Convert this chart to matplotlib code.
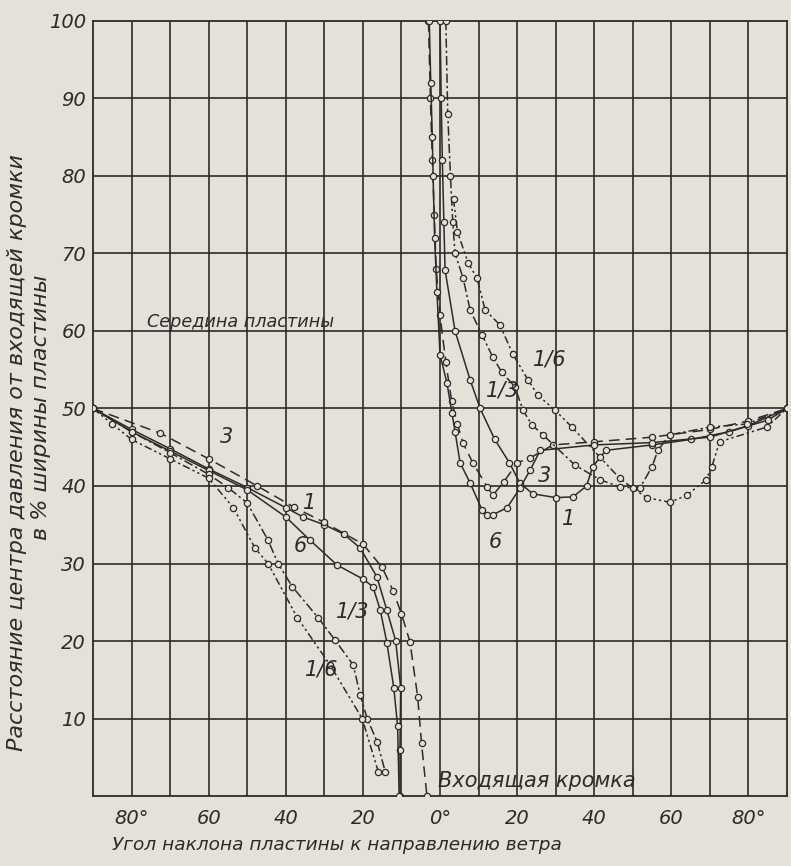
import matplotlib
matplotlib.use("Agg")
import matplotlib.pyplot as plt

plt.rcParams['font.family'] = ['Liberation Sans Narrow', 'DejaVu Sans']
plt.rcParams['font.style'] = 'italic'

paper = '#e3e1d8'
ink = '#2b2b2b'

# left branch: negative angles (plate inclined the other way)
a1_l = [-90, -80, -70, -60, -50, -40, -35.5, -30, -25, -20.7, -16.4, -13.8, -11.5, -10.2, -10.4, -10.4]
v1_l = [50, 47.3, 44.8, 42.2, 39.8, 37.2, 36.0, 35.0, 33.8, 32.0, 28.3, 24.0, 20.0, 14.0, 6.0, 0]
a3_l = [-90, -72.5, -60, -47.4, -38, -30, -20, -15, -12.2, -10, -7.8, -5.8, -4.8, -3.4]
v3_l = [50, 46.8, 43.5, 40.0, 37.3, 35.3, 32.5, 29.5, 26.5, 23.5, 19.9, 12.8, 6.8, 0]
a6_l = [-90, -80, -70, -60, -50, -40, -33.7, -26.7, -20, -17.4, -15.5, -13.8, -12, -11, -10.6]
v6_l = [50, 47.0, 44.5, 42.0, 39.5, 36.0, 33.0, 29.8, 28.0, 27.0, 24.0, 19.8, 14.0, 9.0, 0]
a13_l = [-90, -80, -70, -60, -55, -50, -44.6, -42, -38.3, -31.6, -27.2, -22.5, -20.7, -18.9, -16.3, -14.2]
v13_l = [50, 47.0, 44.3, 41.5, 39.8, 37.8, 33.0, 30.0, 27.0, 23.0, 20.1, 16.9, 13.0, 10.0, 7.0, 3.1]
a16_l = [-90, -85, -80, -70, -60, -53.6, -48, -44.6, -37, -28.5, -20.2, -16]
v16_l = [50, 48.0, 46.0, 43.5, 41.0, 37.2, 32.0, 30.0, 23.0, 16.9, 10.0, 3.1]

# right branch: positive angles
a1_r = [0, 0.3, 0.6, 1.0, 1.3, 3.9, 7.8, 10.4, 14.2, 18, 20.7, 24, 30, 34.5, 38, 39.6, 43, 55, 65, 75, 85, 90]
v1_r = [100, 90, 82, 74, 67.9, 60, 53.7, 50, 46, 43, 40.4, 39, 38.5, 38.6, 40, 42.5, 44.6, 45.3, 46, 47, 48.5, 50]
a3_r = [-3, -2.5, -2, -1.5, -1, 0, 1.5, 3, 4.5, 6, 8.5, 12.2, 13.7, 16.5, 20, 23.3, 29.3, 40, 55, 70, 80, 90]
v3_r = [100, 90, 82, 75, 68, 62, 56, 51, 48, 45.5, 43, 39.9, 38.8, 40.5, 43, 43.6, 45.3, 45.7, 46.3, 47.3, 48.4, 50]
a6_r = [-2.8, -2.4, -2, -1.8, -1.4, -0.8, 0, 1.8, 3.1, 3.9, 5.2, 7.8, 10.9, 12.2, 13.7, 17.4, 20.7, 23.3, 26, 40, 55, 70, 80, 90]
v6_r = [100, 92, 85, 80, 72, 65, 56.9, 53.3, 49.4, 47, 43, 40.4, 36.9, 36.3, 36.3, 37.2, 39.7, 42, 44.6, 45.3, 45.6, 46.3, 47.8, 50]
a13_r = [1.5, 2, 2.7, 3.3, 3.9, 6, 7.8, 10.9, 13.7, 16, 19.4, 21.5, 23.8, 26.7, 35, 41.5, 46.6, 51.8, 55, 56.5, 59.6, 70, 79.5, 90]
v13_r = [100, 88, 80, 74, 70, 66.8, 62.7, 59.5, 56.6, 54.7, 52.8, 49.8, 47.9, 46.6, 42.7, 40.8, 39.9, 39.7, 42.5, 44.6, 46.6, 47.6, 48.0, 50]
a16_r = [3.5, 4.5, 7.3, 9.6, 11.7, 15.5, 18.9, 22.8, 25.4, 29.8, 34.2, 41.5, 46.6, 50, 53.6, 59.6, 64, 69, 70.5, 72.5, 84.7, 90]
v16_r = [77, 72.8, 68.8, 66.8, 62.7, 60.8, 57, 53.7, 51.7, 49.8, 47.6, 43.7, 41, 39.7, 38.5, 37.9, 38.8, 40.8, 42.5, 45.7, 47.6, 50]

x_ticks = [-80, -60, -40, -20, 0, 20, 40, 60, 80]
x_labels = ['80°', '60', '40', '20', '0°', '20', '40', '60', '80°']
y_ticks = [10, 20, 30, 40, 50, 60, 70, 80, 90, 100]

fig = plt.figure(figsize=(7.91, 8.66), dpi=100, facecolor=paper)
ax = fig.add_axes([0.1176, 0.0808, 0.8774, 0.895])
ax.set_facecolor(paper)

ax.set_xlim(-90, 90)
ax.set_ylim(0, 100)

# grid every 10 units
for gx in range(-80, 90, 10):
    ax.axvline(gx, color=ink, lw=1.2, zorder=1)
for gy in range(10, 100, 10):
    ax.axhline(gy, color=ink, lw=1.2, zorder=1)

ax.set_xticks(x_ticks)
ax.set_xticklabels(x_labels)
ax.set_yticks(y_ticks)
ax.tick_params(length=0, labelsize=14, colors=ink)
ax.tick_params(axis='y', pad=5)
ax.tick_params(axis='x', pad=9)
for s in ax.spines.values():
    s.set_color(ink)
    s.set_linewidth(1.3)

mk = dict(marker='o', ms=4.5, mfc=paper, mec=ink, mew=0.9, color=ink, lw=1.1, zorder=3)
styles = {
    '1': dict(ls='-'),
    '3': dict(ls=(0, (7, 4))),
    '6': dict(ls='-'),
    '1/3': dict(ls=(0, (6, 2, 1.5, 2))),
    '1/6': dict(ls=(0, (5, 2, 1.5, 2, 1.5, 2))),
}
curves = [
    ('1', a1_l, v1_l), ('1', a1_r, v1_r),
    ('3', a3_l, v3_l), ('3', a3_r, v3_r),
    ('6', a6_l, v6_l), ('6', a6_r, v6_r),
    ('1/3', a13_l, v13_l), ('1/3', a13_r, v13_r),
    ('1/6', a16_l, v16_l), ('1/6', a16_r, v16_r),
]
for name, xs, ys in curves:
    ax.plot(xs, ys, **mk, **styles[name])

# curve labels
lab = dict(fontsize=15, color=ink, zorder=4)
ax.text(-57, 45.5, '3', **lab)
ax.text(-35.5, 37, '1', **lab)
ax.text(-38, 31.5, '6', **lab)
ax.text(-27, 23, '1/3', **lab)
ax.text(-35, 15.5, '1/6', **lab)
ax.text(24, 55.5, '1/6', **lab)
ax.text(12, 51.5, '1/3', **lab)
ax.text(25.5, 40.5, '3', **lab)
ax.text(31.5, 35, '1', **lab)
ax.text(12.5, 32, '6', **lab)

ax.text(-76, 60.5, 'Середина пластины', fontsize=12.7, color=ink)
ax.text(-0.5, 1.2, 'Входящая кромка', fontsize=15, color=ink)

fig.text(0.022, 0.478, 'Расстояние центра давления от входящей кромки',
         rotation=90, ha='center', va='center', fontsize=16, color=ink)
fig.text(0.052, 0.53, 'в % ширины пластины',
         rotation=90, ha='center', va='center', fontsize=16, color=ink)
fig.text(0.426, 0.024, 'Угол наклона пластины к направлению ветра',
         ha='center', va='center', fontsize=13.3, color=ink)

fig.savefig('out.png', dpi=100, facecolor=paper)
